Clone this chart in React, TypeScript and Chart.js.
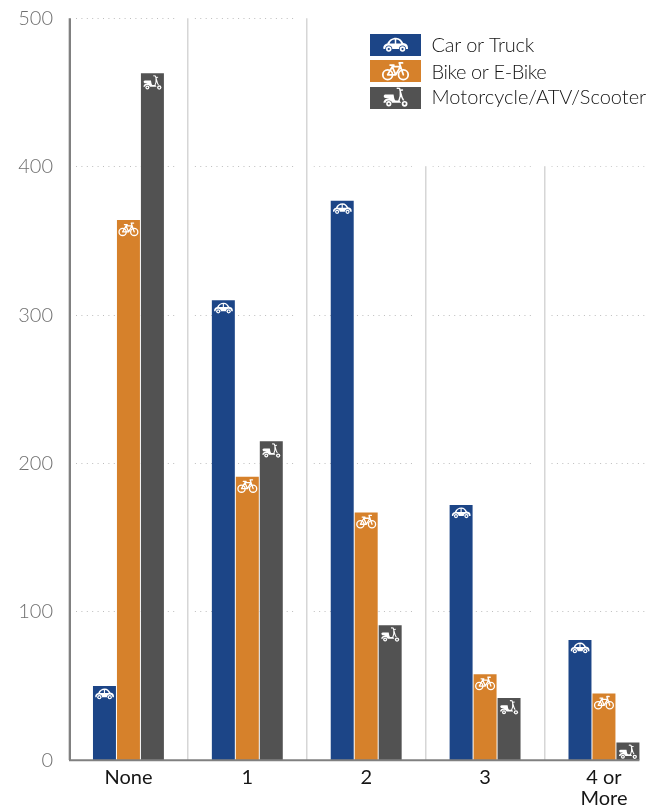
import React, { useEffect, useRef } from "react";
import { Chart, registerables } from "chart.js";

Chart.register(...registerables);

const categories: (string | string[])[] = ["None", "1", "2", "3", ["4 or", "More"]];
const carOrTruck = [50, 310, 377, 172, 81];
const bikeOrEBike = [364, 191, 167, 58, 45];
const motorcycleAtvScooter = [463, 215, 91, 42, 12];
const seriesColors = ["#1c4587", "#d6812b", "#525252"];
const fontFamily = "Lato, sans-serif";

type Ctx = CanvasRenderingContext2D;

// Vehicle glyphs are authored in a box 100 units wide, centred on the origin.
function drawCar(ctx: Ctx, bg: string) {
  ctx.fillStyle = "#fff";
  ctx.beginPath();
  ctx.moveTo(-48, 16);
  ctx.bezierCurveTo(-51, 4, -44, -3, -33, -6);
  ctx.bezierCurveTo(-27, -20, -14, -29, 2, -29);
  ctx.bezierCurveTo(16, -29, 25, -20, 31, -8);
  ctx.bezierCurveTo(43, -6, 51, -2, 50, 16);
  ctx.closePath();
  ctx.fill();
  ctx.fillStyle = bg;
  ctx.beginPath();
  ctx.moveTo(-24, -6);
  ctx.bezierCurveTo(-20, -16, -12, -22, -3, -22);
  ctx.lineTo(-3, -6);
  ctx.closePath();
  ctx.moveTo(3, -22);
  ctx.bezierCurveTo(12, -22, 18, -16, 23, -6);
  ctx.lineTo(3, -6);
  ctx.closePath();
  ctx.fill();
  for (const x of [-27, 28]) {
    ctx.fillStyle = bg;
    ctx.beginPath();
    ctx.arc(x, 16, 14, 0, Math.PI * 2);
    ctx.fill();
    ctx.fillStyle = "#fff";
    ctx.beginPath();
    ctx.arc(x, 16, 11, 0, Math.PI * 2);
    ctx.fill();
    ctx.fillStyle = bg;
    ctx.beginPath();
    ctx.arc(x, 16, 4.5, 0, Math.PI * 2);
    ctx.fill();
  }
}

function drawBike(ctx: Ctx) {
  ctx.strokeStyle = "#fff";
  ctx.lineWidth = 6.5;
  ctx.lineCap = "round";
  ctx.lineJoin = "round";
  for (const x of [-29, 29]) {
    ctx.beginPath();
    ctx.arc(x, 14, 18, 0, Math.PI * 2);
    ctx.stroke();
  }
  ctx.beginPath();
  ctx.moveTo(-29, 14);
  ctx.lineTo(-12, -16);
  ctx.lineTo(1, 14);
  ctx.closePath();
  ctx.moveTo(-12, -16);
  ctx.lineTo(18, -16);
  ctx.lineTo(1, 14);
  ctx.moveTo(29, 14);
  ctx.lineTo(14, -30);
  ctx.lineTo(26, -30);
  ctx.moveTo(-20, -22);
  ctx.lineTo(-6, -22);
  ctx.stroke();
}

function drawScooter(ctx: Ctx, bg: string) {
  ctx.fillStyle = "#fff";
  ctx.strokeStyle = "#fff";
  ctx.lineJoin = "round";
  ctx.lineCap = "round";
  // Rear body, seat and floorboard
  ctx.beginPath();
  ctx.moveTo(-50, 20);
  ctx.bezierCurveTo(-50, 8, -40, 2, -26, 0);
  ctx.lineTo(-44, 0);
  ctx.bezierCurveTo(-52, -6, -50, -15, -40, -15);
  ctx.lineTo(-8, -15);
  ctx.bezierCurveTo(-6, -6, -6, 6, 0, 10);
  ctx.lineTo(16, 10);
  ctx.lineTo(24, 20);
  ctx.closePath();
  ctx.fill();
  // Steering column, front fork and handlebar
  ctx.lineWidth = 6;
  ctx.beginPath();
  ctx.moveTo(14, 12);
  ctx.bezierCurveTo(20, 0, 22, -14, 20, -28);
  ctx.bezierCurveTo(24, -8, 28, 4, 38, 18);
  ctx.moveTo(20, -28);
  ctx.lineTo(17, -40);
  ctx.lineTo(7, -41);
  ctx.moveTo(20, -32);
  ctx.lineTo(29, -33);
  ctx.stroke();
  for (const [x, r] of [[-28, 11], [38, 12]]) {
    ctx.fillStyle = bg;
    ctx.beginPath();
    ctx.arc(x, 24, r + 3, 0, Math.PI * 2);
    ctx.fill();
    ctx.fillStyle = "#fff";
    ctx.beginPath();
    ctx.arc(x, 24, r, 0, Math.PI * 2);
    ctx.fill();
    ctx.fillStyle = bg;
    ctx.beginPath();
    ctx.arc(x, 24, r * 0.4, 0, Math.PI * 2);
    ctx.fill();
  }
}

function drawGlyph(ctx: Ctx, kind: number, cx: number, cy: number, width: number, bg: string) {
  ctx.save();
  ctx.translate(cx, cy);
  ctx.scale(width / 100, width / 100);
  if (kind === 0) drawCar(ctx, bg);
  else if (kind === 1) drawBike(ctx);
  else drawScooter(ctx, bg);
  ctx.restore();
}

const barGlyphs = [
  { width: 19, drop: 8 },
  { width: 20, drop: 9 },
  { width: 18, drop: 10 },
];

const legendRows = [
  { top: 34, glyphWidth: 25, glyphDy: 11, textY: 45.5, tracking: "-0.25px" },
  { top: 60, glyphWidth: 27, glyphDy: 11, textY: 72.5, tracking: "-0.4px" },
  { top: 87, glyphWidth: 24, glyphDy: 11, textY: 98, tracking: "0px" },
];

// Value axis rule and dotted value lines, broken into one run per category.
const dottedGrid = {
  id: "dottedGrid",
  beforeDatasetsDraw(chart: any) {
    const { ctx, scales } = chart;
    const step = (scales.x.right - scales.x.left) / categories.length;
    ctx.save();
    ctx.strokeStyle = "#808080";
    ctx.lineWidth = 2;
    ctx.beginPath();
    ctx.moveTo(scales.x.left + 1, scales.y.top);
    ctx.lineTo(scales.x.left + 1, scales.y.bottom);
    ctx.stroke();
    ctx.strokeStyle = "#bdbdbd";
    ctx.lineWidth = 1;
    ctx.setLineDash([1, 4.4]);
    for (const tick of scales.y.ticks) {
      if (tick.value === 0) continue;
      const y = Math.floor(scales.y.getPixelForValue(tick.value)) + 0.5;
      categories.forEach((_, i) => {
        const from = scales.x.left + step * i;
        ctx.beginPath();
        ctx.moveTo(from + 7, y);
        ctx.lineTo(from + 109, y);
        ctx.stroke();
      });
    }
    ctx.restore();
  },
};

// Baseline, glyphs on each bar, and the legend panel.
const decorations = {
  id: "decorations",
  afterDatasetsDraw(chart: any) {
    const { ctx, scales } = chart;
    const lastBars = chart.getDatasetMeta(2).data;
    const end = lastBars[lastBars.length - 1];
    const zero = scales.y.getPixelForValue(0);
    ctx.save();
    ctx.strokeStyle = "#808080";
    ctx.lineWidth = 2;
    ctx.beginPath();
    ctx.moveTo(scales.x.left, zero);
    ctx.lineTo(end.x + end.width / 2, zero);
    ctx.stroke();
    chart.data.datasets.forEach((ds: any, k: number) => {
      chart.getDatasetMeta(k).data.forEach((bar: any) => {
        drawGlyph(ctx, k, bar.x, bar.y + barGlyphs[k].drop, barGlyphs[k].width, ds.backgroundColor);
      });
    });
    ctx.restore();
  },
  afterDraw(chart: any) {
    const { ctx, scales } = chart;
    const panelBottom = scales.y.getPixelForValue(400) - 0.5;
    ctx.save();
    ctx.fillStyle = "#fff";
    ctx.fillRect(309, 0, 400, panelBottom);
    ctx.font = `300 20px ${fontFamily}`;
    ctx.textBaseline = "middle";
    chart.data.datasets.forEach((ds: any, k: number) => {
      const row = legendRows[k];
      ctx.fillStyle = ds.backgroundColor;
      ctx.fillRect(370, row.top, 51, 22);
      drawGlyph(ctx, k, 395.5, row.top + row.glyphDy, row.glyphWidth, ds.backgroundColor);
      ctx.fillStyle = "#141414";
      (ctx as any).letterSpacing = row.tracking;
      ctx.fillText(ds.label, 431.5, row.textY);
    });
    ctx.restore();
  },
};

export default function App() {
  const canvasRef = useRef<HTMLCanvasElement | null>(null);

  useEffect(() => {
    const chart = new Chart(canvasRef.current as HTMLCanvasElement, {
      type: "bar",
      data: {
        labels: categories as any,
        datasets: [
          { label: "Car or Truck", data: carOrTruck, backgroundColor: seriesColors[0] },
          { label: "Bike or E-Bike", data: bikeOrEBike, backgroundColor: seriesColors[1] },
          { label: "Motorcycle/ATV/Scooter", data: motorcycleAtvScooter, backgroundColor: seriesColors[2] },
        ],
      },
      options: {
        animation: false,
        responsive: false,
        categoryPercentage: 72 / 119,
        barPercentage: 23 / 24,
        layout: { padding: { top: 18.3, left: 0, right: 0.6, bottom: 0 } },
        plugins: { legend: { display: false }, tooltip: { enabled: false } },
        scales: {
          x: {
            grid: { color: "#d6d6d6", lineWidth: 1.5, drawTicks: false },
            border: { display: false },
            ticks: {
              color: "#161616",
              padding: 6,
              maxRotation: 0,
              autoSkip: false,
              font: { family: fontFamily, size: 20, weight: "400", lineHeight: 1.08 },
            },
            afterFit(scale: any) {
              scale.height = 49.7;
            },
          },
          y: {
            min: 0,
            max: 500,
            grid: { display: false },
            border: { display: false },
            ticks: {
              stepSize: 100,
              color: "#707070",
              padding: 8,
              font: { family: fontFamily, size: 20, weight: "300" },
            },
            afterFit(scale: any) {
              scale.width = 69;
              scale.paddingTop = 0;
              scale.paddingBottom = 0;
            },
          },
        },
      } as any,
      plugins: [dottedGrid, decorations],
    });
    return () => chart.destroy();
  }, []);

  return (
    <div style={{ position: "fixed", left: 0, top: 0, width: 646, height: 810, overflow: "hidden", background: "#fff" }}>
      <canvas ref={canvasRef} width={664} height={810} style={{ display: "block" }} />
    </div>
  );
}
